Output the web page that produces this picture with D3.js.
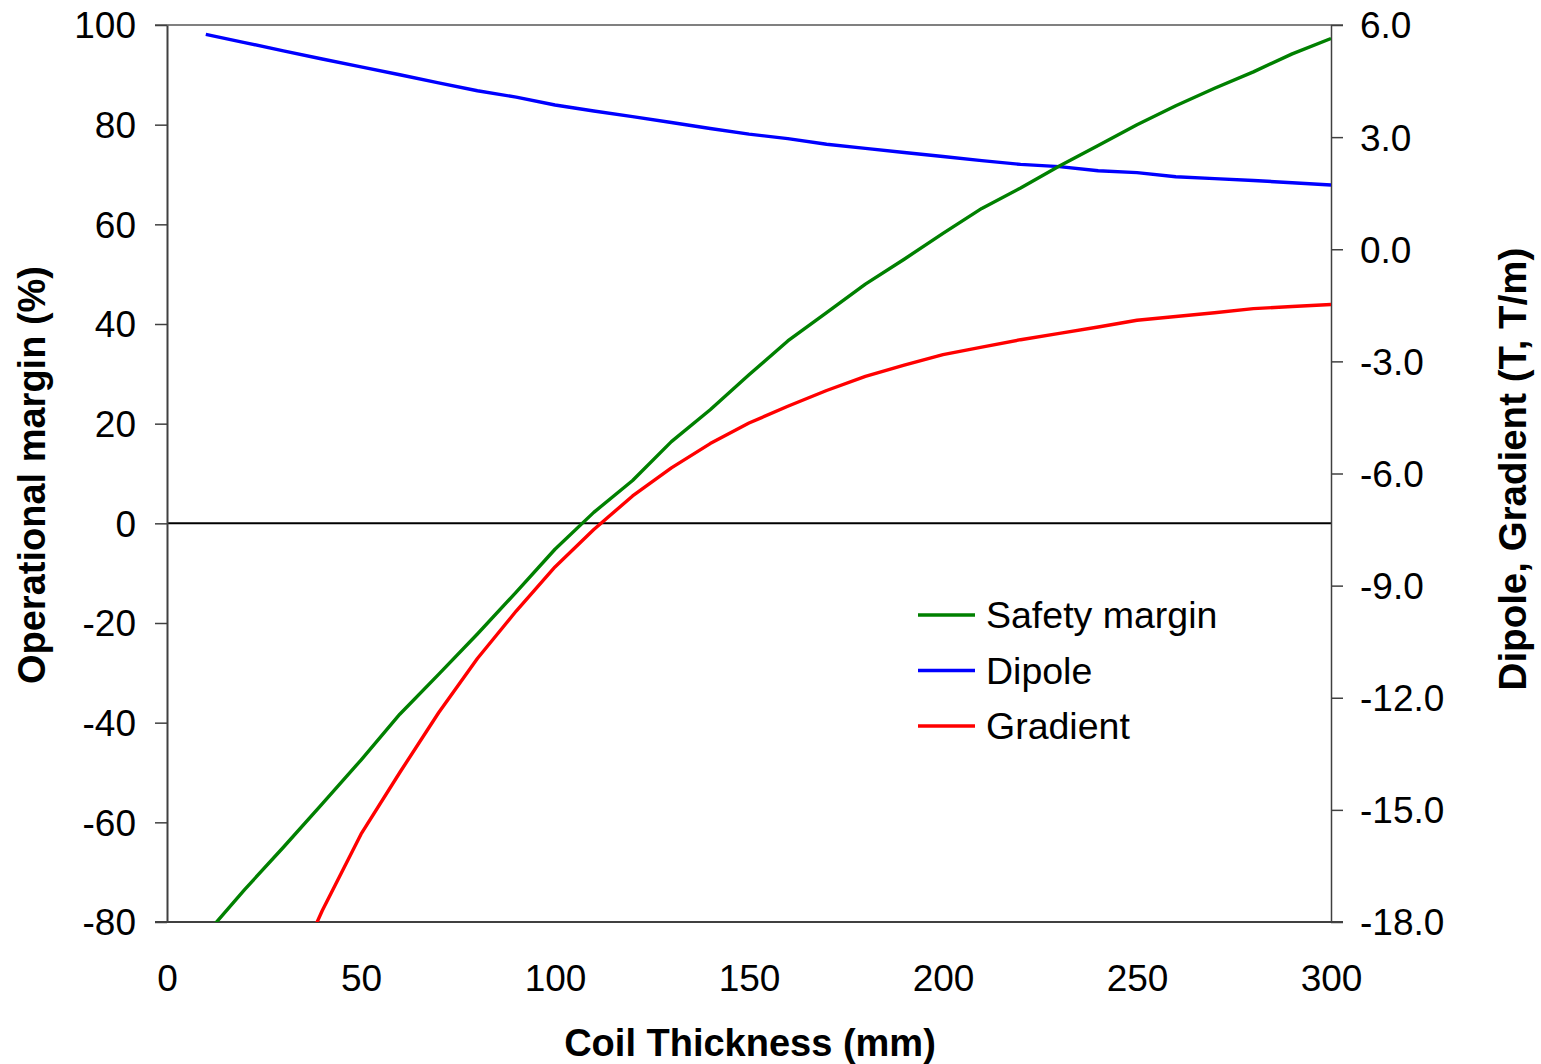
<!DOCTYPE html>
<html>
<head>
<meta charset="utf-8">
<script src="https://cdn.jsdelivr.net/npm/d3@7"></script>
<style>
  body { margin: 0; background: #fff; }
  svg text { font-family: "Liberation Sans", Arial, sans-serif; fill: #000; }
</style>
</head>
<body>
<svg id="chart" width="1541" height="1064"></svg>
<script>
// coil thickness (mm)
var thickness = [10, 20, 30, 40, 50, 60, 70, 80, 90, 100, 110, 120, 130, 140, 150,
                 160, 170, 180, 190, 200, 210, 220, 230, 240, 250, 260, 270, 280, 290, 300];
// operational / safety margin (%), left axis
var safetyMargin = [-82.5, -73.5, -65, -56.3, -47.5, -38.3, -30.3, -22.2, -13.8, -5.2, 2.2, 8.6, 16.4, 22.8, 29.8,
                    36.6, 42.3, 48, 53, 58.2, 63.2, 67.3, 71.7, 75.8, 80, 83.8, 87.3, 90.6, 94.2, 97.3];
// dipole field (T), right axis
var dipole = [5.75, 5.53, 5.31, 5.09, 4.88, 4.67, 4.45, 4.24, 4.07, 3.86, 3.70, 3.55, 3.39, 3.23, 3.08,
              2.96, 2.81, 2.70, 2.59, 2.48, 2.37, 2.27, 2.21, 2.10, 2.05, 1.94, 1.89, 1.84, 1.78, 1.72];
// gradient (T/m), right axis (first points fall below the axis)
var gradient = [null, null, -20, -17.7, -15.65, -14.0, -12.4, -10.95, -9.68, -8.5, -7.5, -6.6, -5.85, -5.2, -4.65,
                -4.2, -3.78, -3.4, -3.1, -2.82, -2.62, -2.42, -2.25, -2.08, -1.9, -1.8, -1.7, -1.59, -1.53, -1.48];

var xTicks = [0, 50, 100, 150, 200, 250, 300];
var leftTicks = [-80, -60, -40, -20, 0, 20, 40, 60, 80, 100];
var rightTicks = [-18, -15, -12, -9, -6, -3, 0, 3, 6];

var plotL = 167, plotR = 1331, plotT = 25, plotB = 922;
var svg = d3.select("#chart");

var x = d3.scaleLinear().domain([0, 300]).range([plotL, plotR]);
var yL = d3.scaleLinear().domain([-80, 100]).range([plotB, plotT]);
var yR = d3.scaleLinear().domain([-18, 6]).range([plotB, plotT]);

// plain hyphen for negatives, like the original
function hyph(f) { return function(d) { return f(d).replace("\u2212", "-"); }; }

svg.append("defs").append("clipPath").attr("id", "plot")
  .append("rect").attr("x", plotL).attr("y", plotT).attr("width", plotR - plotL).attr("height", plotB - plotT);

// top border and bottom line
svg.append("line").attr("x1", plotL - 12).attr("x2", plotR + 12).attr("y1", plotT).attr("y2", plotT)
  .attr("stroke", "#808080").attr("stroke-width", 2);
svg.append("line").attr("x1", plotL - 12).attr("x2", plotR + 12).attr("y1", plotB).attr("y2", plotB)
  .attr("stroke", "#000").attr("stroke-width", 1.5);
// zero line
svg.append("line").attr("x1", plotL).attr("x2", plotR).attr("y1", yL(0)).attr("y2", yL(0))
  .attr("stroke", "#000").attr("stroke-width", 2);

// left axis
var gL = svg.append("g").attr("transform", "translate(" + plotL + ",0)")
  .call(d3.axisLeft(yL).tickValues(leftTicks).tickSize(12).tickSizeOuter(0).tickPadding(19).tickFormat(hyph(d3.format("d"))));
gL.select(".domain").attr("stroke", "#404040").attr("stroke-width", 2);
gL.selectAll(".tick line").attr("stroke", "#404040").attr("stroke-width", 1.5);
gL.selectAll(".tick text").style("font-size", "37px").attr("dy", "0.35em");

// right axis
var gR = svg.append("g").attr("transform", "translate(" + plotR + ",0)")
  .call(d3.axisRight(yR).tickValues(rightTicks).tickSize(12).tickSizeOuter(0).tickPadding(17).tickFormat(hyph(d3.format(".1f"))));
gR.select(".domain").attr("stroke", "#404040").attr("stroke-width", 1.5);
gR.selectAll(".tick line").attr("stroke", "#404040").attr("stroke-width", 1.5);
gR.selectAll(".tick text").style("font-size", "37px").attr("dy", "0.35em");

// bottom axis: labels only
var gB = svg.append("g").attr("transform", "translate(0," + plotB + ")")
  .call(d3.axisBottom(x).tickValues(xTicks).tickSize(0).tickPadding(69).tickFormat(d3.format("d")));
gB.select(".domain").remove();
gB.selectAll(".tick text").style("font-size", "37px").attr("dy", "0");

// series
var pts = thickness.map(function(t, i) { return i; });
function drawLine(vals, scale, color) {
  var line = d3.line()
    .defined(function(i) { return vals[i] !== null; })
    .x(function(i) { return x(thickness[i]); })
    .y(function(i) { return scale(vals[i]); });
  svg.append("path").datum(pts)
    .attr("clip-path", "url(#plot)")
    .attr("d", line)
    .attr("fill", "none")
    .attr("stroke", color)
    .attr("stroke-width", 3.4)
    .attr("stroke-linejoin", "round");
}
drawLine(dipole, yR, "#0000FF");
drawLine(gradient, yR, "#FF0000");
drawLine(safetyMargin, yL, "#008000");

// axis titles
svg.append("text").attr("x", 750).attr("y", 1056).attr("text-anchor", "middle")
  .style("font-size", "38px").style("font-weight", "bold").text("Coil Thickness (mm)");
svg.append("text").attr("transform", "translate(45,475) rotate(-90)").attr("text-anchor", "middle")
  .style("font-size", "38px").style("font-weight", "bold").text("Operational margin (%)");
svg.append("text").attr("transform", "translate(1526,469) rotate(-90)").attr("text-anchor", "middle")
  .style("font-size", "38.5px").style("font-weight", "bold").text("Dipole, Gradient (T, T/m)");

// legend
var legendNames = ["Safety margin", "Dipole", "Gradient"];
var legendColors = ["#008000", "#0000FF", "#FF0000"];
var lg = svg.append("g").selectAll("g").data(legendNames).enter().append("g")
  .attr("transform", function(d, i) { return "translate(918," + (615 + i * 55.5) + ")"; });
lg.append("line").attr("x1", 0).attr("x2", 57).attr("y1", 0).attr("y2", 0)
  .attr("stroke", function(d, i) { return legendColors[i]; }).attr("stroke-width", 3.4);
lg.append("text").attr("x", 68).attr("dy", "0.35em").style("font-size", "37.5px").text(function(d) { return d; });
</script>
</body>
</html>
